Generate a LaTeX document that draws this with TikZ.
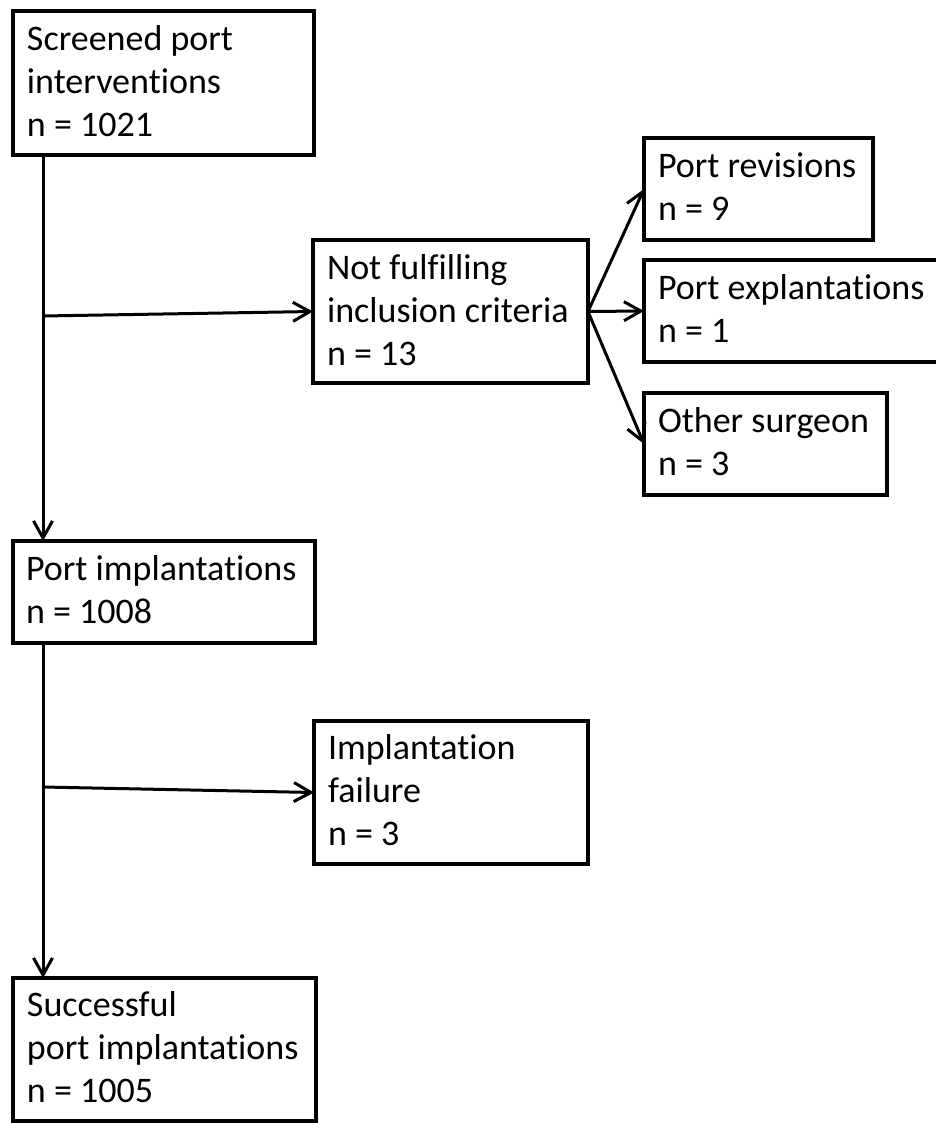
\documentclass[tikz,border=0pt]{standalone}
\usepackage{fontspec}
\setmainfont{Carlito}[Ligatures={CommonOff,ContextualOff},Contextuals=AlternateOff]
\usetikzlibrary{arrows.meta,calc}
\begin{document}
\begin{tikzpicture}[x=1pt,y=-1pt,
  box/.style={draw=black, line width=3.2pt, inner sep=0pt, outer sep=0pt, anchor=north west},
  lbl/.style={anchor=north west, inner sep=0pt, outer sep=0pt, align=left, font=\fontsize{36}{43}\selectfont},
  conn/.style={draw=black, line width=3pt, -{Straight Barb[length=17pt,width=19pt,line width=3pt]}}]
\useasboundingbox (0,0) rectangle (935,1123);
\fill[white] (0,0) rectangle (935,1123);
% boxes
\node[box, minimum width=301pt, minimum height=144pt] (b1) at (13,11) {};
\node[box, minimum width=275pt, minimum height=143pt] (b2) at (313,240) {};
\node[box, minimum width=229pt, minimum height=102pt] (b3) at (644,138) {};
\node[box, minimum width=301pt, minimum height=102pt] (b4) at (644,260) {};
\node[box, minimum width=243pt, minimum height=102pt] (b5) at (644,393) {};
\node[box, minimum width=302pt, minimum height=102pt] (b6) at (13,541) {};
\node[box, minimum width=274pt, minimum height=143pt] (b7) at (314,721) {};
\node[box, minimum width=303pt, minimum height=143pt] (b8) at (13,978) {};
% texts
\node[lbl] (t1) at ($(b1.north west)+(14,9)$) {\strut Screened port\\\strut interventions\\\strut n = 1021};
\node[lbl] (t2) at ($(b2.north west)+(14,9)$) {\strut Not fulfilling\\\strut inclusion criteria\\\strut n = 13};
\node[lbl] (t3) at ($(b3.north west)+(14,9.5)$) {\strut Port revisions\\\strut n = 9};
\node[lbl] (t4) at ($(b4.north west)+(14,9.5)$) {\strut Port explantations\\\strut n = 1};
\node[lbl] (t5) at ($(b5.north west)+(14,9.5)$) {\strut Other surgeon\\\strut n = 3};
\node[lbl] (t6) at ($(b6.north west)+(13,9)$) {\strut Port implantations\\\strut n = 1008};
\node[lbl] (t7) at ($(b7.north west)+(14,8)$) {\strut Implantation\\\strut failure\\\strut n = 3};
\node[lbl] (t8) at ($(b8.north west)+(14,8)$) {\strut Successful\\\strut port implantations\\\strut n = 1005};
% connectors
\coordinate (j1) at ($(b1.south west)+(30,161)$);
\coordinate (j2) at ($(b6.south west)+(30,144)$);
\path[conn] ($(b1.south west)+(30,0)$) -- ($(b6.north west)+(30,0)$);
\path[conn] (j1) -- (b2.west);
\path[conn] (b2.east) -- (b3.west);
\path[conn] (b2.east) -- (b4.west);
\path[conn] (b2.east) -- (b5.west);
\path[conn] ($(b6.south west)+(30,0)$) -- ($(b8.north west)+(30,0)$);
\path[conn] (j2) -- (b7.west);
\end{tikzpicture}
\end{document}
